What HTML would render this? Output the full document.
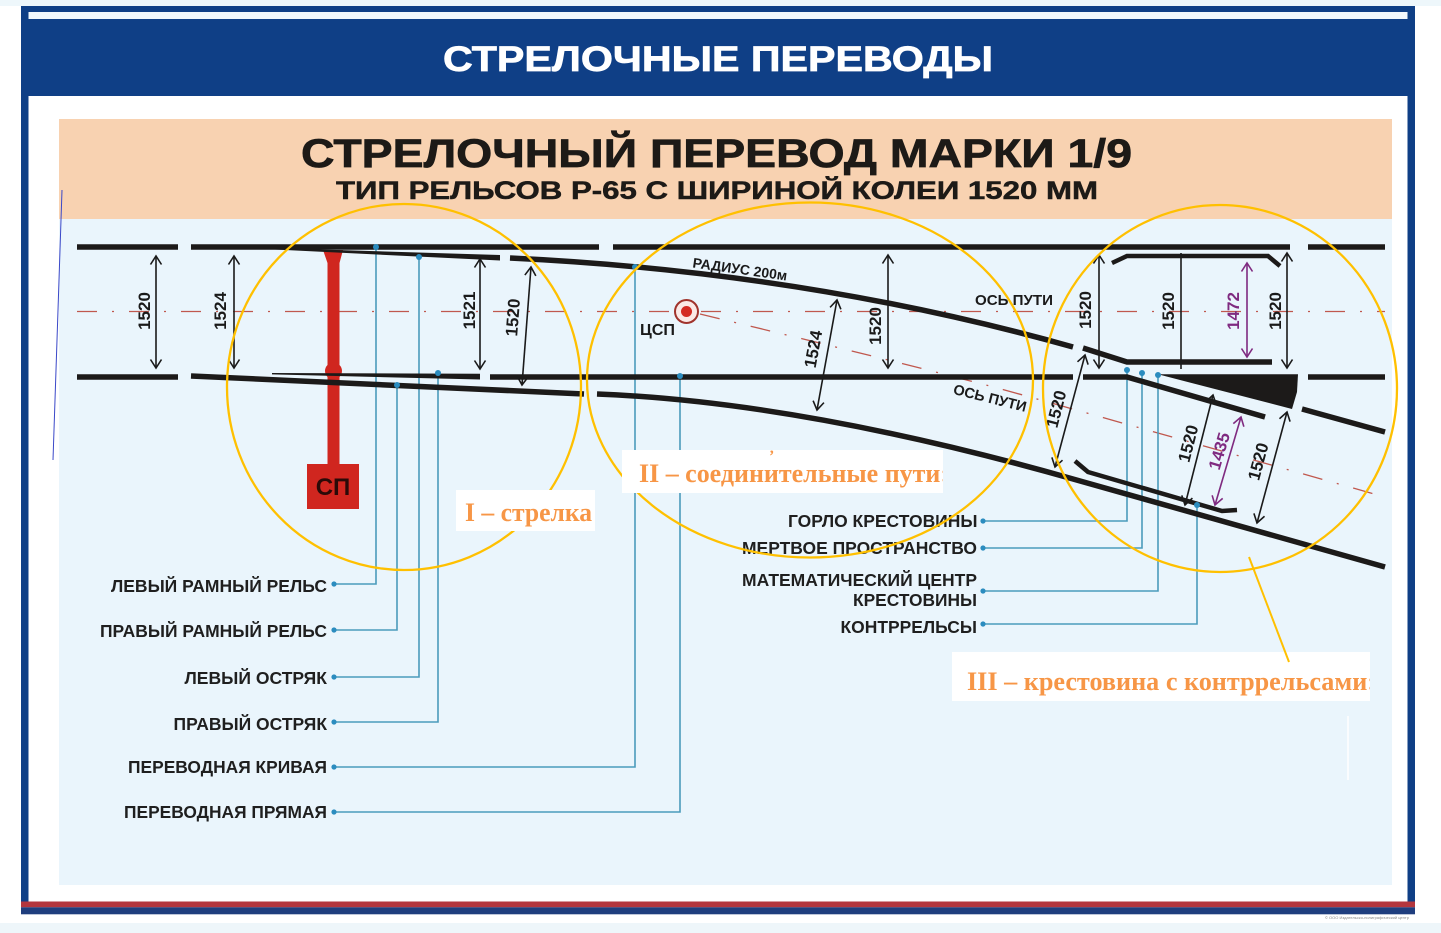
<!DOCTYPE html>
<html><head><meta charset="utf-8">
<style>
html,body{margin:0;padding:0;background:#fff;}
svg{display:block;}
text{font-family:"Liberation Sans",Arial,sans-serif;font-weight:bold;}
.sf{font-family:"Liberation Serif","Times New Roman",serif;font-weight:bold;fill:#f79646;}
</style></head><body>
<svg width="1441" height="933" viewBox="0 0 1441 933" xmlns="http://www.w3.org/2000/svg">
<defs>
<marker id="ar" viewBox="-1 -7 11 14" refX="8.5" refY="0" markerWidth="11" markerHeight="14" markerUnits="userSpaceOnUse" orient="auto-start-reverse"><path d="M0,-5.5 L8.5,0 L0,5.5" fill="none" stroke="#1a1a1a" stroke-width="1.6"/></marker>
<marker id="arp" viewBox="-1 -7 11 14" refX="8.5" refY="0" markerWidth="11" markerHeight="14" markerUnits="userSpaceOnUse" orient="auto-start-reverse"><path d="M0,-5.5 L8.5,0 L0,5.5" fill="none" stroke="#7f2a80" stroke-width="1.6"/></marker>
<clipPath id="c1"><rect x="456" y="490" width="139" height="41"/></clipPath>
<clipPath id="c2"><rect x="622" y="450" width="321" height="43"/></clipPath>
<clipPath id="c3"><rect x="952" y="652" width="418" height="49"/></clipPath>
</defs>

<!-- backgrounds -->
<rect width="1441" height="933" fill="#ffffff"/>
<rect x="0" y="0" width="1441" height="6" fill="#eef7fb"/>
<rect x="21" y="6" width="1394" height="896" fill="#0f3f86"/>
<rect x="28.5" y="12" width="1379" height="7" fill="#f2f8fc"/>
<rect x="28.5" y="96" width="1379" height="806" fill="#ffffff"/>
<rect x="59" y="119" width="1333" height="100" fill="#f8d2b1"/>
<rect x="59" y="219" width="1333" height="666" fill="#eaf5fc"/>
<rect x="21" y="901.5" width="1394" height="5.8" fill="#b3363e"/>
<rect x="21" y="907.3" width="1394" height="7" fill="#1f3e7e"/>
<rect x="0" y="923" width="1441" height="10" fill="#eef6fa"/>
<text x="1325" y="919" font-size="4" fill="#888" style="font-weight:normal">© ООО Издательско-полиграфический центр</text>

<!-- header texts -->
<text x="443" y="71" font-size="35" fill="#ffffff" stroke="#ffffff" stroke-width="0.7" textLength="550" lengthAdjust="spacingAndGlyphs">СТРЕЛОЧНЫЕ ПЕРЕВОДЫ</text>
<text x="301" y="167" font-size="40" fill="#1d1a17" stroke="#1d1a17" stroke-width="0.7" textLength="831" lengthAdjust="spacingAndGlyphs">СТРЕЛОЧНЫЙ ПЕРЕВОД МАРКИ 1/9</text>
<text x="336" y="199" font-size="25" fill="#1d1a17" stroke="#1d1a17" stroke-width="0.5" textLength="762" lengthAdjust="spacingAndGlyphs">ТИП РЕЛЬСОВ Р-65 С ШИРИНОЙ КОЛЕИ 1520 ММ</text>

<!-- axes -->
<line x1="77" y1="311.5" x2="1385" y2="311.5" stroke="#c0584e" stroke-width="1.3" stroke-dasharray="20 15 2 15"/>
<path d="M700,314 Q939,371.5 1030,397 L1385,497" fill="none" stroke="#c0584e" stroke-width="1.3" stroke-dasharray="20 15 2 15"/>

<!-- leader lines -->
<g fill="none" stroke="#4b9bbb" stroke-width="1.6">
<path d="M376,247 V584 H334"/>
<path d="M397,385 V630 H334"/>
<path d="M419,257 V677 H334"/>
<path d="M438,373 V722 H334"/>
<path d="M635,267 V767 H334"/>
<path d="M680,376 V812 H334"/>
<path d="M1127,370 V521 H983"/>
<path d="M1142,373 V548 H983"/>
<path d="M1158,375 V591 H983"/>
<path d="M1197,505 V624 H983"/>
</g>

<!-- red rod СП -->
<g fill="#d0261f">
<rect x="327.5" y="252" width="12" height="212"/>
<path d="M323,250 L343,250 L339.5,263 L327.5,263 Z"/>
<circle cx="333.5" cy="371" r="8.5"/>
<rect x="307" y="464" width="52" height="45"/>
</g>
<text x="333" y="495" font-size="24" fill="#2b0a08" text-anchor="middle">СП</text>

<!-- rails -->
<g fill="none" stroke="#1c1a19" stroke-width="5.5">
<line x1="77" y1="247" x2="178" y2="247"/>
<line x1="191" y1="247" x2="599" y2="247"/>
<line x1="613" y1="247" x2="1290" y2="247"/>
<line x1="1308" y1="247" x2="1385" y2="247"/>
<line x1="77" y1="377" x2="178" y2="377"/>
<path d="M191,376 L584,394"/>
<path d="M597,394 Q802,402 1073,479 L1385,567"/>
<path d="M510,258 Q806,272 1073,347"/>
<path d="M1083,348 L1127,362 L1272,362"/>
<line x1="490" y1="377" x2="1073" y2="377"/>
<path d="M1083,377 L1127,377 L1265,417"/>
<line x1="1308" y1="377" x2="1385" y2="377"/>
<path d="M1302,409 L1385,432"/>
</g>
<g fill="none" stroke="#1c1a19" stroke-width="4.5">
<path d="M1112,263 L1127,256 L1268,256 L1280,266"/>
<path d="M1075,461 L1088,472 L1222,511 L1237,510"/>
</g>
<g fill="#1c1a19">
<polygon points="270,248 500,255 500,260.5 270,249.3"/>
<polygon points="272,373 480,373.8 480,379.5 272,374.4"/>
<polygon points="1158,374.3 1298,374.3 1297,392 1292,409"/>
</g>

<!-- dimension arrows -->
<g stroke="#1a1a1a" stroke-width="1.6" fill="none" marker-start="url(#ar)" marker-end="url(#ar)">
<line x1="156" y1="256" x2="156" y2="368"/>
<line x1="234" y1="256" x2="234" y2="368"/>
<line x1="480" y1="259" x2="480" y2="369"/>
<line x1="531" y1="267" x2="522" y2="385"/>
<line x1="837" y1="300" x2="817" y2="410"/>
<line x1="888" y1="255" x2="888" y2="368"/>
<line x1="1099" y1="255" x2="1099" y2="368"/>
<line x1="1287" y1="253" x2="1287" y2="368"/>
<line x1="1085" y1="355" x2="1055" y2="467"/>
<line x1="1213" y1="395" x2="1185" y2="505"/>
<line x1="1287" y1="412" x2="1257" y2="523"/>
</g>
<line x1="1181" y1="253" x2="1181" y2="369" stroke="#1a1a1a" stroke-width="1.6"/>
<g stroke="#7f2a80" stroke-width="1.6" fill="none" marker-start="url(#arp)" marker-end="url(#arp)">
<line x1="1247" y1="263" x2="1247" y2="357"/>
<line x1="1241" y1="417" x2="1215" y2="505"/>
</g>

<!-- dimension texts -->
<g font-size="17" fill="#1a1a1a" text-anchor="middle">
<text transform="translate(144,311) rotate(-90)" dy="6">1520</text>
<text transform="translate(220,311) rotate(-90)" dy="6">1524</text>
<text transform="translate(469,310.5) rotate(-90)" dy="6">1521</text>
<text transform="translate(512.6,317.5) rotate(-85.6)" dy="6">1520</text>
<text transform="translate(813,349) rotate(-79.7)" dy="6">1524</text>
<text transform="translate(875,326) rotate(-90)" dy="6">1520</text>
<text transform="translate(1085,310) rotate(-90)" dy="6">1520</text>
<text transform="translate(1168,311) rotate(-90)" dy="6">1520</text>
<text transform="translate(1275,311) rotate(-90)" dy="6">1520</text>
<text transform="translate(1056,409) rotate(-75.7)" dy="6">1520</text>
<text transform="translate(1188,443.5) rotate(-75.7)" dy="6">1520</text>
<text transform="translate(1258,461.5) rotate(-74.9)" dy="6">1520</text>
</g>
<g font-size="17" fill="#7f2a80" text-anchor="middle">
<text transform="translate(1233,311) rotate(-90)" dy="6">1472</text>
<text transform="translate(1219,451) rotate(-73.5)" dy="6">1435</text>
</g>

<!-- small labels on diagram -->
<text transform="translate(740,269) rotate(8)" dy="5" font-size="14" fill="#1a1a1a" text-anchor="middle">РАДИУС 200м</text>
<text x="975" y="305" font-size="15" fill="#1a1a1a" textLength="78" lengthAdjust="spacingAndGlyphs">ОСЬ ПУТИ</text>
<text transform="translate(990,398) rotate(14)" dy="5" font-size="14.5" fill="#1a1a1a" text-anchor="middle">ОСЬ ПУТИ</text>
<text x="640" y="335" font-size="16" fill="#1a1a1a" textLength="35" lengthAdjust="spacingAndGlyphs">ЦСП</text>

<!-- ЦСП marker -->
<circle cx="686.5" cy="311.5" r="11.5" fill="#fbe9e6" stroke="#a0332c" stroke-width="2"/>
<circle cx="686.5" cy="311.5" r="5.5" fill="#d42a22"/>

<!-- leader dots -->
<g fill="#2b8cbf">
<circle cx="376" cy="247" r="3"/><circle cx="397" cy="385" r="3"/><circle cx="419" cy="257" r="3"/><circle cx="438" cy="373" r="3"/>
<circle cx="635" cy="267" r="3"/><circle cx="680" cy="376" r="3"/>
<circle cx="1127" cy="370" r="3"/><circle cx="1142" cy="373" r="3"/><circle cx="1158" cy="375" r="3"/><circle cx="1197" cy="505" r="3"/>
<circle cx="334" cy="584" r="2.6"/><circle cx="334" cy="630" r="2.6"/><circle cx="334" cy="677" r="2.6"/><circle cx="334" cy="722" r="2.6"/><circle cx="334" cy="767" r="2.6"/><circle cx="334" cy="812" r="2.6"/>
<circle cx="983" cy="521" r="2.6"/><circle cx="983" cy="548" r="2.6"/><circle cx="983" cy="591" r="2.6"/><circle cx="983" cy="624" r="2.6"/>
</g>

<!-- leader labels -->
<g font-size="17.5" fill="#1f1f1f">
<text x="111" y="592" textLength="216" lengthAdjust="spacingAndGlyphs">ЛЕВЫЙ РАМНЫЙ РЕЛЬС</text>
<text x="100" y="637" textLength="227" lengthAdjust="spacingAndGlyphs">ПРАВЫЙ РАМНЫЙ РЕЛЬС</text>
<text x="184.5" y="684" textLength="142.5" lengthAdjust="spacingAndGlyphs">ЛЕВЫЙ ОСТРЯК</text>
<text x="173.5" y="730" textLength="153.5" lengthAdjust="spacingAndGlyphs">ПРАВЫЙ ОСТРЯК</text>
<text x="128" y="773" textLength="199" lengthAdjust="spacingAndGlyphs">ПЕРЕВОДНАЯ КРИВАЯ</text>
<text x="124" y="818" textLength="203" lengthAdjust="spacingAndGlyphs">ПЕРЕВОДНАЯ ПРЯМАЯ</text>
<text x="788" y="527" textLength="189.5" lengthAdjust="spacingAndGlyphs">ГОРЛО КРЕСТОВИНЫ</text>
<text x="742" y="554" textLength="235" lengthAdjust="spacingAndGlyphs">МЕРТВОЕ ПРОСТРАНСТВО</text>
<text x="742" y="586" textLength="235" lengthAdjust="spacingAndGlyphs">МАТЕМАТИЧЕСКИЙ ЦЕНТР</text>
<text x="853" y="606" textLength="124" lengthAdjust="spacingAndGlyphs">КРЕСТОВИНЫ</text>
<text x="840.5" y="633" textLength="136.5" lengthAdjust="spacingAndGlyphs">КОНТРРЕЛЬСЫ</text>
</g>

<!-- yellow circles -->
<g fill="none" stroke="#ffc000" stroke-width="2.3">
<ellipse cx="404" cy="387" rx="177" ry="183"/>
<ellipse cx="810" cy="380" rx="223" ry="177.5"/>
<ellipse cx="1220" cy="388.5" rx="177" ry="183.5"/>
</g>

<!-- label boxes -->
<rect x="456" y="490" width="139" height="41" fill="#ffffff"/>
<text class="sf" x="465" y="521" font-size="26" textLength="127" lengthAdjust="spacingAndGlyphs" clip-path="url(#c1)">I – стрелка</text>
<rect x="622" y="450" width="321" height="43" fill="#ffffff"/>
<text class="sf" x="639" y="482" font-size="26" textLength="310" lengthAdjust="spacingAndGlyphs" clip-path="url(#c2)">II – соединительные пути:</text>
<text class="sf" x="769" y="461" font-size="16">’</text>
<rect x="952" y="652" width="418" height="49" fill="#ffffff"/>
<text class="sf" x="967" y="690" font-size="26" textLength="409" lengthAdjust="spacingAndGlyphs" clip-path="url(#c3)">III – крестовина с контррельсами:</text>
<line x1="1249" y1="557" x2="1289" y2="662" stroke="#ffc000" stroke-width="2"/>

<!-- stray lines -->
<line x1="62" y1="190" x2="53" y2="460" stroke="#3a48c8" stroke-width="1"/>
<line x1="1348" y1="716" x2="1348" y2="780" stroke="#ffffff" stroke-width="1.5"/>
</svg>
</body></html>
